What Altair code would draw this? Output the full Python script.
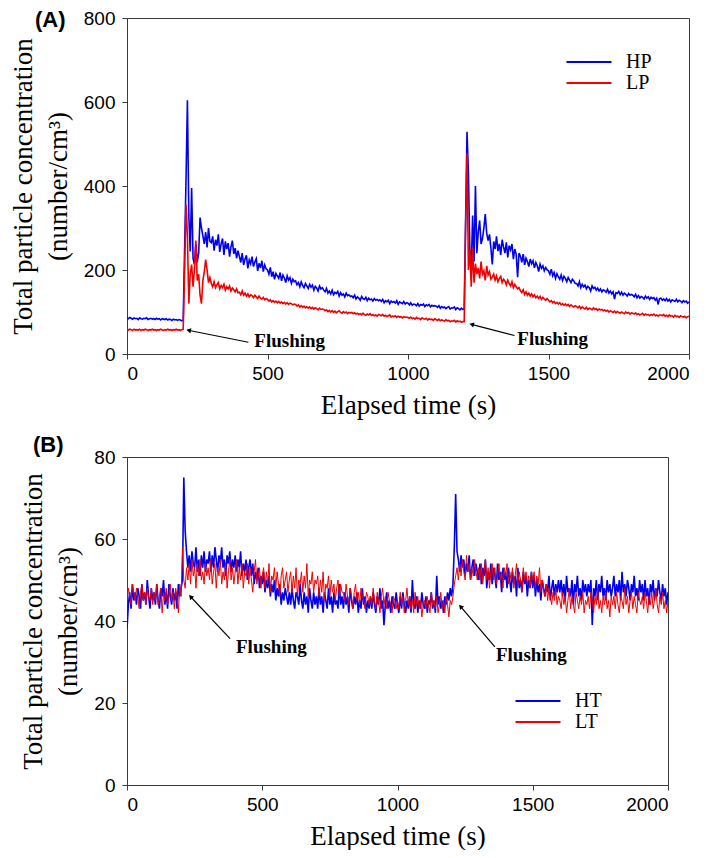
import altair as alt
import pandas as pd

STEP = 5
TIME = list(range(0, 2001, STEP))

# ---------------- Panel A : HP / LP (number/cm3) ----------------
HP = (
    [86,84,87,85,83,86,84,85,82,86,84,83,85,84,86,82,84,85,83,84] +
    [82,85,83,84,81,84,83,82,84,81,83,82,80,83,81,82,80,82,81,79] +
    [81,250,415,604,330,244,395,228,213,262,218,240,325,300,282,262,290,254,300,268] +
    [265,280,246,272,258,285,243,262,275,236,268,250,264,232,255,270,238,252,228,246] +
    [232,218,240,212,226,235,204,224,215,232,208,219,227,198,216,205,222,196,212,203] +
    [200,190,206,184,196,178,192,186,180,194,174,188,181,170,186,176,182,168,178,172] +
    [174,165,170,160,172,163,158,168,162,156,166,159,164,152,161,157,150,162,155,158] +
    [152,148,156,145,150,143,152,141,147,144,149,138,146,140,143,136,145,139,141,137] +
    [138,134,140,131,136,133,128,137,132,130,135,127,133,129,131,126,132,128,130,127] +
    [129,125,130,122,127,124,128,120,126,123,125,121,127,118,124,122,120,125,119,122] +
    [121,117,122,116,119,118,115,120,114,118,116,119,113,117,115,118,112,116,114,115] +
    [114,111,115,109,113,110,112,108,111,113,107,110,109,112,106,110,108,105,109,106] +
    [107,320,529,430,250,200,330,220,400,240,290,318,262,275,300,333,288,270,285,252] +
    [213,268,250,280,245,262,236,272,255,240,266,230,258,248,262,226,250,238,183,240] +
    [233,218,238,212,228,220,208,226,215,222,205,218,210,196,214,204,210,198,206,200] +
    [198,190,202,186,194,180,191,184,178,188,175,185,180,172,182,176,170,178,174,168] +
    [168,162,172,158,166,160,164,155,161,158,150,162,156,159,152,157,150,155,148,153] +
    [151,147,154,145,150,143,148,131,146,144,149,141,147,140,145,142,138,144,140,142] +
    [140,136,142,134,139,133,137,135,131,138,133,136,130,135,132,134,128,133,118,132] +
    [133,128,131,127,132,126,130,124,129,127,125,130,124,128,126,122,127,124,126,121] +
    [124]
)
LP = (
    [58,57,59,58,56,59,57,58,57,59,56,58,57,59,58,56,58,57,59,57] +
    [58,56,58,57,59,57,56,58,57,59,57,58,56,58,57,59,57,58,56,58] +
    [59,200,356,280,120,190,213,160,200,270,175,190,140,120,175,195,225,200,170,182] +
    [168,160,172,158,165,170,155,163,158,166,152,160,155,162,150,157,153,148,155,146] +
    [147,141,150,140,145,138,143,136,141,139,134,140,136,132,138,133,131,135,129,132] +
    [130,126,129,124,127,123,126,122,125,121,124,120,123,119,122,118,121,120,117,119] +
    [118,114,117,112,115,111,114,110,113,109,112,108,111,107,110,108,105,109,106,107] +
    [106,103,105,101,104,100,103,99,102,98,101,103,99,97,101,98,100,96,99,98] +
    [99,96,98,95,97,94,96,93,97,94,92,95,93,96,92,94,91,93,90,94] +
    [93,91,94,90,92,89,91,93,88,90,89,91,87,90,88,89,86,89,87,88] +
    [87,85,88,84,86,83,87,84,85,82,86,84,83,85,81,84,82,83,80,84] +
    [82,80,83,79,81,80,78,82,79,80,77,79,78,80,76,79,77,78,76,77] +
    [77,300,478,200,250,160,252,170,215,190,205,180,220,190,198,175,210,188,196,178] +
    [183,190,176,186,172,180,185,170,178,174,165,176,168,162,172,158,166,160,155,158] +
    [151,146,153,142,148,140,145,138,143,136,141,134,138,132,137,130,135,131,128,132] +
    [128,124,127,122,125,120,123,119,122,117,120,116,119,115,118,113,117,114,112,115] +
    [113,110,114,108,112,109,107,111,106,109,108,105,110,106,108,104,107,105,106,103] +
    [105,102,104,100,103,101,99,102,98,101,99,97,100,98,96,100,97,99,95,98] +
    [97,95,98,94,96,93,95,97,92,95,93,94,91,94,92,95,91,93,90,93] +
    [93,91,94,90,92,89,93,90,91,88,92,89,90,87,91,89,88,90,86,89] +
    [90]
)

# ---------------- Panel B : HT / LT (number/cm3) ----------------
HT = (
    [38,44,47,43,49,45,47,44,48,46,43,49,45,47,44,50,46,43,48,45] +
    [47,44,49,45,43,48,46,50,44,47,43,49,46,44,48,45,47,43,49,46] +
    [48,50,75,62,57,53,56,52,57,54,53,58,52,55,51,56,53,57,52,55] +
    [54,57,52,56,53,58,55,52,56,54,58,53,55,51,56,54,57,52,55,53] +
    [56,52,55,53,57,51,54,52,55,50,53,55,51,54,49,52,50,53,48,51] +
    [49,52,47,50,48,51,46,49,47,50,45,48,46,49,44,47,45,48,46,44] +
    [47,44,48,45,43,47,46,44,49,45,43,47,44,46,42,48,45,43,47,44] +
    [46,43,48,44,46,42,47,45,43,48,44,46,42,47,44,45,43,49,44,46] +
    [43,47,44,46,42,48,45,43,46,44,47,42,45,43,48,44,46,42,45,43] +
    [46,43,47,44,42,46,44,48,43,45,39,44,47,43,45,42,46,44,43,47] +
    [44,42,46,43,47,44,42,45,43,46,42,50,44,43,46,42,45,43,47,44] +
    [43,46,42,45,44,47,43,45,42,51,44,46,43,45,42,46,44,47,45,48] +
    [46,49,58,71,57,55,52,56,53,55,51,54,52,56,50,53,55,51,54,52] +
    [50,54,49,53,51,55,48,52,50,54,49,53,51,48,54,50,52,47,53,50] +
    [52,48,53,50,47,52,49,51,46,53,48,50,47,52,49,51,46,50,48,52] +
    [48,51,46,50,47,49,45,50,48,46,49,47,51,45,48,50,46,49,47,50] +
    [47,50,46,49,45,51,47,48,46,50,44,49,47,51,46,48,45,50,47,49] +
    [46,49,47,50,39,48,46,50,45,49,47,51,46,48,45,50,47,49,46,48] +
    [51,46,49,47,50,45,52,47,49,46,50,48,45,49,47,51,46,48,45,50] +
    [47,49,45,50,46,48,44,49,47,50,45,48,46,50,47,45,49,46,48,44] +
    [47]
)
LT = (
    [45,48,46,44,49,47,45,48,46,43,47,49,45,47,44,48,46,45,48,44] +
    [47,45,49,44,46,48,42,47,45,48,44,46,49,45,47,43,48,46,42,49] +
    [46,58,50,48,53,50,54,49,55,51,53,48,54,51,55,50,52,49,54,51] +
    [53,50,55,49,52,54,48,53,51,55,49,52,50,54,48,52,55,50,53,49] +
    [52,55,49,53,50,54,48,52,51,54,49,53,50,47,52,55,49,51,53,48] +
    [51,53,48,52,49,54,47,51,50,53,48,52,49,46,51,53,48,50,52,47] +
    [50,52,47,51,48,53,46,50,49,52,47,51,48,54,46,50,49,52,47,50] +
    [49,51,46,50,47,52,45,49,48,51,46,50,47,49,45,48,50,46,49,47] +
    [47,45,49,46,44,48,46,43,47,49,45,47,44,48,46,45,43,47,46,44] +
    [46,44,48,45,43,47,45,42,46,48,44,46,43,47,45,44,42,46,45,43] +
    [45,43,47,44,46,42,45,48,44,46,43,45,42,47,44,46,43,45,41,44] +
    [45,43,46,44,42,47,44,45,43,46,42,44,47,43,45,42,46,44,41,45] +
    [44,46,49,51,53,50,54,51,55,52,50,56,52,54,50,53,51,55,52,50] +
    [53,50,54,49,52,55,50,53,48,52,54,50,53,49,51,54,50,52,48,53] +
    [51,54,49,52,50,53,48,51,54,49,52,50,47,53,50,52,49,51,48,52] +
    [50,52,48,51,49,53,47,50,48,46,49,45,48,46,44,47,45,48,44,46] +
    [45,43,47,44,46,42,45,48,43,46,44,42,47,45,43,46,44,47,42,45] +
    [44,46,43,47,45,42,46,44,48,43,45,42,46,44,47,43,45,41,46,44] +
    [46,43,47,44,42,46,45,43,48,44,46,42,45,47,43,46,44,42,47,45] +
    [44,46,43,47,45,42,46,44,47,43,45,48,44,42,46,44,47,43,45,42] +
    [45]
)

SERIES_A = ["HP", "LP"]
SERIES_B = ["HT", "LT"]
COLORS = ["#0000f0", "#f00000"]
X_TICKS = [0, 500, 1000, 1500, 2000]
Y_TICKS_A = [0, 200, 400, 600, 800]
Y_TICKS_B = [0, 20, 40, 60, 80]

# "Flushing" annotations (data units): arrow head, arrow tail, label anchor
FLUSH_A_HEAD_T = [222, 1229]
FLUSH_A_HEAD_V = [56, 70]
FLUSH_A_TAIL_T = [432, 1379]
FLUSH_A_TAIL_V = [28, 44]
FLUSH_A_TEXT_T = [453, 1389]
FLUSH_A_TEXT_V = [30, 35]
FLUSH_A_ANGLE = [282, 285]

FLUSH_B_HEAD_T = [237, 1235]
FLUSH_B_HEAD_V = [45.8, 43.4]
FLUSH_B_TAIL_T = [381, 1360]
FLUSH_B_TAIL_V = [35.7, 33.7]
FLUSH_B_TEXT_T = [403, 1364]
FLUSH_B_TEXT_V = [33.7, 31.8]
FLUSH_B_ANGLE = [317, 320]

Y_TITLE = ["Total particle concentration", "(number/cm\u00b3)"]
X_TITLE = "Elapsed time (s)"

SERIF = "Liberation Serif"
SANS = "Liberation Sans"

assert len(HP) == len(LP) == len(HT) == len(LT) == len(TIME)


def long_df(names, arrays):
    rows = []
    for n, arr in zip(names, arrays):
        for t, v in zip(TIME, arr):
            rows.append({"t": t, "v": v, "series": n})
    return pd.DataFrame(rows)


def ann_df(ht, hv, tt, tv, xt, xv, ang):
    return pd.DataFrame({"ht": ht, "hv": hv, "tt": tt, "tv": tv,
                         "xt": xt, "xv": xv, "ang": ang,
                         "label": ["Flushing"] * len(ht)})


def axis(values, title, lpad, tpad):
    return alt.Axis(values=values, title=title, format="d", grid=False,
                    labelFont=SANS, labelFontSize=19, labelColor="black", labelPadding=lpad,
                    titleFont=SERIF, titleFontSize=27, titleFontWeight="normal",
                    titleColor="black", titlePadding=tpad, titleLineHeight=35,
                    domainColor="#3c3c3c", tickColor="#3c3c3c", tickSize=5)


def panel(df, names, widths, yticks, ymax, ann, tag, w, h, lx, ly, tagx, tagy):
    xs = alt.Scale(domain=[0, 2000], nice=False)
    ys = alt.Scale(domain=[0, ymax], nice=False)
    xax = axis(X_TICKS, X_TITLE, 5, 9)
    yax = axis(yticks, Y_TITLE, 7, 11)
    legend = alt.Legend(title=None, orient="none", legendX=lx, legendY=ly,
                        symbolType="M-3,0H3", symbolSize=225, symbolStrokeWidth=1.8,
                        labelFont=SERIF, labelFontSize=20, labelColor="black",
                        labelOffset=27, rowPadding=1, padding=0)
    color = alt.Color("series:N", scale=alt.Scale(domain=names, range=COLORS), legend=legend)
    layers = []
    for n, sw in zip(names, widths):
        layers.append(
            alt.Chart(df).transform_filter(alt.datum.series == n)
            .mark_line(strokeWidth=sw, clip=True)
            .encode(x=alt.X("t:Q", scale=xs, axis=xax),
                    y=alt.Y("v:Q", scale=ys, axis=yax),
                    color=color, order="t:Q")
        )
    arrows = alt.Chart(ann).mark_rule(color="black", strokeWidth=1.2).encode(
        x=alt.X("tt:Q", scale=xs, axis=xax), y=alt.Y("tv:Q", scale=ys, axis=yax),
        x2="ht:Q", y2="hv:Q")
    heads = alt.Chart(ann).mark_point(shape="triangle", filled=True, color="black",
                                      size=28, opacity=1).encode(
        x=alt.X("ht:Q", scale=xs, axis=xax), y=alt.Y("hv:Q", scale=ys, axis=yax),
        angle=alt.Angle("ang:Q", scale=None))
    texts = alt.Chart(ann).mark_text(align="left", baseline="middle", font=SERIF,
                                     fontWeight="bold", fontSize=19, color="black").encode(
        x=alt.X("xt:Q", scale=xs, axis=xax), y=alt.Y("xv:Q", scale=ys, axis=yax),
        text="label:N")
    tagc = alt.Chart(pd.DataFrame({"tag": [tag]})).mark_text(
        align="left", baseline="middle", font=SANS, fontWeight="bold",
        fontSize=22, color="black").encode(x=alt.value(tagx), y=alt.value(tagy), text="tag:N")
    return alt.layer(*layers, arrows, heads, texts, tagc).properties(width=w, height=h)


dfA = long_df(SERIES_A, [HP, LP])
dfB = long_df(SERIES_B, [HT, LT])
annA = ann_df(FLUSH_A_HEAD_T, FLUSH_A_HEAD_V, FLUSH_A_TAIL_T, FLUSH_A_TAIL_V,
              FLUSH_A_TEXT_T, FLUSH_A_TEXT_V, FLUSH_A_ANGLE)
annB = ann_df(FLUSH_B_HEAD_T, FLUSH_B_HEAD_V, FLUSH_B_TAIL_T, FLUSH_B_TAIL_V,
              FLUSH_B_TEXT_T, FLUSH_B_TEXT_V, FLUSH_B_ANGLE)

chartA = panel(dfA, SERIES_A, [1.6, 1.6], Y_TICKS_A, 800, annA, "(A)",
               562, 336, 452, 34, -92, 2)
chartB = panel(dfB, SERIES_B, [1.6, 1.0], Y_TICKS_B, 80, annB, "(B)",
               541, 328, 401, 234, -94, -12)

chart = alt.vconcat(chartA, chartB, spacing=14).resolve_scale(
    color="independent", x="independent", y="independent"
).resolve_legend(color="independent").properties(padding=0).configure_view(
    stroke="#3c3c3c", strokeWidth=1
)

chart.save("out.html", embed_options={"renderer": "svg", "actions": False})
